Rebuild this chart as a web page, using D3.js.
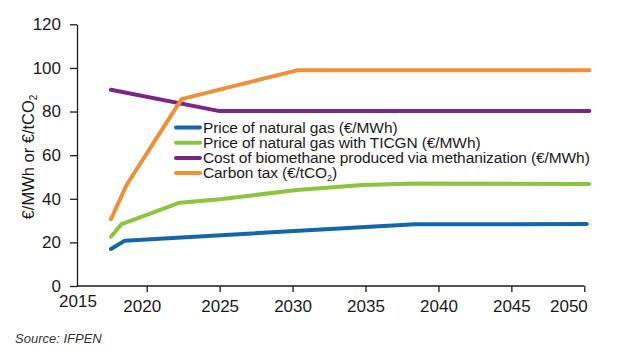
<!DOCTYPE html>
<html>
<head>
<meta charset="utf-8">
<script src="https://cdn.jsdelivr.net/npm/d3@7"></script>
<style>
  html, body { margin: 0; padding: 0; background: #fff; }
  svg { display: block; font-family: "Liberation Sans", Arial, sans-serif; }
</style>
</head>
<body>
<svg id="chart" width="627" height="355"></svg>
<script>
// ---- data ----
const xTicks = [2020, 2025, 2030, 2035, 2040, 2045, 2050];
const xFirstLabel = "2015";
const yTicks = [0, 20, 40, 60, 80, 100, 120];

const gasYears = [2017.55, 2018.5, 2038.4, 2050.17];
const gasValues = [17.0, 20.8, 28.3, 28.4];

const ticgnYears = [2017.55, 2018.28, 2022.27, 2025, 2030.3, 2034.8, 2038.4, 2050.35];
const ticgnValues = [22.6, 28.4, 38.2, 39.8, 44.0, 46.3, 47.0, 46.8];

const bioYears = [2017.55, 2025, 2050.35];
const bioValues = [90.0, 80.2, 80.2];

const taxYears = [2017.55, 2018.62, 2022.39, 2030.3, 2050.35];
const taxValues = [30.6, 46.3, 85.7, 98.9, 98.9];

const seriesNames = [
  "Price of natural gas (€/MWh)",
  "Price of natural gas with TICGN (€/MWh)",
  "Cost of biomethane produced via methanization (€/MWh)",
  "Carbon tax (€/tCO"
];
const seriesColors = ["#1566a9", "#8cc43e", "#7b2584", "#f08f36"];

// ---- build ----
const series = [
  { name: seriesNames[0], color: seriesColors[0], pts: gasYears.map((yr, i) => [yr, gasValues[i]]) },
  { name: seriesNames[1], color: seriesColors[1], pts: ticgnYears.map((yr, i) => [yr, ticgnValues[i]]) },
  { name: seriesNames[2], color: seriesColors[2], pts: bioYears.map((yr, i) => [yr, bioValues[i]]) },
  { name: seriesNames[3], color: seriesColors[3], pts: taxYears.map((yr, i) => [yr, taxValues[i]]), sub: "2", tail: ")" }
];

const svg = d3.select("#chart");
const axisX0 = 77;
const x = d3.scaleLinear().domain([2020, 2050]).range([146.7, 584.3]);
const y = d3.scaleLinear().domain([0, 120]).range([286, 24.3]);
const ink = "#1a1a1a";
const tickFont = 17;

// y axis
const gy = svg.append("g").attr("transform", `translate(${axisX0},0)`)
  .call(d3.axisLeft(y).tickValues(yTicks).tickSize(7).tickSizeOuter(0).tickPadding(9));
gy.select(".domain").attr("stroke", ink).attr("stroke-width", 1.3);
gy.selectAll(".tick line").attr("stroke", ink).attr("stroke-width", 1.3);
gy.selectAll(".tick text").attr("font-size", tickFont).attr("fill", ink)
  .attr("font-family", "Liberation Sans, Arial, sans-serif");

// x axis
const gx = svg.append("g").attr("transform", `translate(0,${y(0)})`)
  .call(d3.axisBottom(x).tickValues(xTicks).tickSize(6).tickSizeOuter(0).tickPadding(8).tickFormat(d3.format("d")));
gx.select(".domain").remove();
gx.append("line").attr("x1", axisX0).attr("x2", x(2050)).attr("y1", 0).attr("y2", 0)
  .attr("stroke", ink).attr("stroke-width", 1.3);
gx.selectAll(".tick line").attr("stroke", ink).attr("stroke-width", 1.3);
gx.selectAll(".tick text").attr("font-size", tickFont).attr("fill", ink)
  .attr("font-family", "Liberation Sans, Arial, sans-serif");
gx.selectAll(".tick text").filter(d => d === 2020).attr("dx", -5);
gx.selectAll(".tick text").filter(d => d === 2050).attr("text-anchor", "end").attr("dx", 3);
gx.append("text").attr("x", axisX0 + 1).attr("y", 9).attr("dy", "0.71em")
  .attr("text-anchor", "middle").attr("font-size", tickFont).attr("fill", ink).text(xFirstLabel);

// y title
const yt = svg.append("text").attr("transform", "translate(34,157) rotate(-90)")
  .attr("text-anchor", "middle").attr("font-size", 16.5).attr("fill", ink);
yt.append("tspan").text("€/MWh or €/tCO");
yt.append("tspan").attr("font-size", 10).attr("dy", 3).text("2");

// lines
const line = d3.line().x(d => x(d[0])).y(d => y(d[1]));
svg.append("g").selectAll("path").data(series).join("path")
  .attr("d", d => line(d.pts)).attr("fill", "none")
  .attr("stroke", d => d.color).attr("stroke-width", 4)
  .attr("stroke-linejoin", "round").attr("stroke-linecap", "round");

// legend
const lg = svg.append("g").attr("transform", "translate(175,127.5)");
const items = lg.selectAll("g").data(series).join("g")
  .attr("transform", (d, i) => `translate(0,${i * 15.2})`);
items.append("line").attr("x1", 1).attr("x2", 25).attr("y1", 0).attr("y2", 0)
  .attr("stroke", d => d.color).attr("stroke-width", 4).attr("stroke-linecap", "round");
const lt = items.append("text").attr("x", 28).attr("y", 0).attr("dy", "0.33em")
  .attr("font-size", 15.5).attr("letter-spacing", -0.1).attr("fill", ink);
lt.append("tspan").text(d => d.name);
lt.filter(d => d.sub).append("tspan").attr("font-size", 9).attr("dy", 3).text(d => d.sub);
lt.filter(d => d.tail).append("tspan").attr("dy", -3).text(d => d.tail);

// source
svg.append("text").attr("x", 15).attr("y", 343).attr("font-size", 13)
  .attr("font-style", "italic").attr("fill", "#333").text("Source: IFPEN");
</script>
</body>
</html>
